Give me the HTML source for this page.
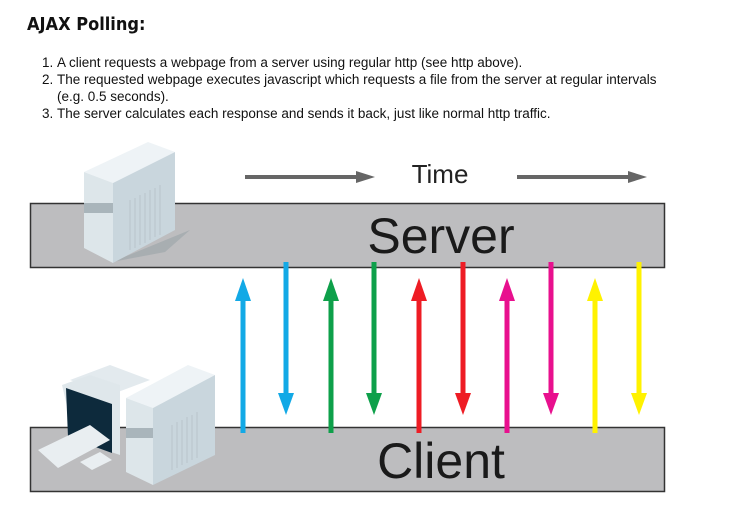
<!DOCTYPE html>
<html><head><style>
body{margin:0;background:#fff;width:733px;height:508px;overflow:hidden;position:relative;font-family:"Liberation Sans",sans-serif}
h1{position:absolute;left:27px;top:14px;margin:0;font-size:18px;font-weight:bold;color:#111;font-family:"DejaVu Sans Condensed","DejaVu Sans",sans-serif}
ol{position:absolute;left:18px;top:54px;margin:0;padding-left:39px;font-size:13.5px;line-height:17px;color:#111;width:615px}
</style></head><body>
<h1>AJAX Polling:</h1>
<ol>
<li>A client requests a webpage from a server using regular http (see http above).</li>
<li>The requested webpage executes javascript which requests a file from the server at regular intervals (e.g. 0.5 seconds).</li>
<li>The server calculates each response and sends it back, just like normal http traffic.</li>
</ol>
<svg width="733" height="508" style="position:absolute;left:0;top:0">
<rect x="30.5" y="203.5" width="634" height="64" fill="#bdbdbf" stroke="#333" stroke-width="1.5"/>
<rect x="30.5" y="427.5" width="634" height="64" fill="#bdbdbf" stroke="#333" stroke-width="1.5"/>
<text x="441" y="253" font-size="50" text-anchor="middle" fill="#1a1a1a" font-family="Liberation Sans">Server</text>
<text x="441" y="478" font-size="50" text-anchor="middle" fill="#1a1a1a" font-family="Liberation Sans">Client</text>
<text x="440" y="183" font-size="26" text-anchor="middle" fill="#222" font-family="Liberation Sans">Time</text>
<line x1="245" y1="177" x2="360" y2="177" stroke="#666" stroke-width="4"/><polygon points="356,171 375,177 356,183" fill="#666"/>
<line x1="517" y1="177" x2="632" y2="177" stroke="#666" stroke-width="4"/><polygon points="628,171 647,177 628,183" fill="#666"/>
<g stroke-width="5">
<line x1="243" y1="298" x2="243" y2="433" stroke="#12a9e6"/><polygon points="235,301 243,278 251,301" fill="#12a9e6"/>
<line x1="286" y1="262" x2="286" y2="396" stroke="#12a9e6"/><polygon points="278,393 286,415 294,393" fill="#12a9e6"/>
<line x1="331" y1="298" x2="331" y2="433" stroke="#0ea04a"/><polygon points="323,301 331,278 339,301" fill="#0ea04a"/>
<line x1="374" y1="262" x2="374" y2="396" stroke="#0ea04a"/><polygon points="366,393 374,415 382,393" fill="#0ea04a"/>
<line x1="419" y1="298" x2="419" y2="433" stroke="#ee1c24"/><polygon points="411,301 419,278 427,301" fill="#ee1c24"/>
<line x1="463" y1="262" x2="463" y2="396" stroke="#ee1c24"/><polygon points="455,393 463,415 471,393" fill="#ee1c24"/>
<line x1="507" y1="298" x2="507" y2="433" stroke="#e8108e"/><polygon points="499,301 507,278 515,301" fill="#e8108e"/>
<line x1="551" y1="262" x2="551" y2="396" stroke="#e8108e"/><polygon points="543,393 551,415 559,393" fill="#e8108e"/>
<line x1="595" y1="298" x2="595" y2="433" stroke="#fff200"/><polygon points="587,301 595,278 603,301" fill="#fff200"/>
<line x1="639" y1="262" x2="639" y2="396" stroke="#fff200"/><polygon points="631,393 639,415 647,393" fill="#fff200"/>
</g>
<g>
<polygon points="112,262 190,230 165,252" fill="#9aa3a8" opacity="0.6"/>
<polygon points="84,172 148,142 175,152 113,183" fill="#eef3f6"/>
<polygon points="84,172 113,183 113,263 84,248" fill="#dde6ea"/>
<polygon points="113,183 175,152 175,230 113,263" fill="#c9d6dd"/>
<rect x="84" y="203" width="29" height="10" fill="#a9b5bb"/>
<g stroke="#b9c4ca" stroke-width="1">
<line x1="130" y1="200" x2="130" y2="250"/><line x1="135" y1="198" x2="135" y2="248"/><line x1="140" y1="195" x2="140" y2="245"/><line x1="145" y1="193" x2="145" y2="243"/><line x1="150" y1="190" x2="150" y2="240"/><line x1="155" y1="188" x2="155" y2="237"/><line x1="160" y1="185" x2="160" y2="235"/>
</g>
</g>
<g>
<polygon points="70,380 110,365 150,380 110,395" fill="#e3eaee"/>
<polygon points="62,385 90,375 120,385 120,455 75,440" fill="#dfe7eb"/>
<polygon points="66,388 112,404 112,453 68,437" fill="#0d2a3c"/>
<polygon points="38,450 90,425 110,440 58,468" fill="#e9eef1"/>
<polygon points="80,462 100,452 112,460 92,470" fill="#e9eef1"/>
<polygon points="126,398 188,365 215,375 153,408" fill="#eef3f6"/>
<polygon points="126,398 153,408 153,485 126,472" fill="#dde6ea"/>
<polygon points="153,408 215,375 215,455 153,485" fill="#c9d6dd"/>
<rect x="126" y="428" width="27" height="10" fill="#a9b5bb"/>
<g stroke="#b9c4ca" stroke-width="1">
<line x1="172" y1="425" x2="172" y2="470"/><line x1="177" y1="422" x2="177" y2="468"/><line x1="182" y1="420" x2="182" y2="465"/><line x1="187" y1="417" x2="187" y2="463"/><line x1="192" y1="415" x2="192" y2="460"/><line x1="197" y1="412" x2="197" y2="458"/>
</g>
</g>
</svg>
</body></html>
